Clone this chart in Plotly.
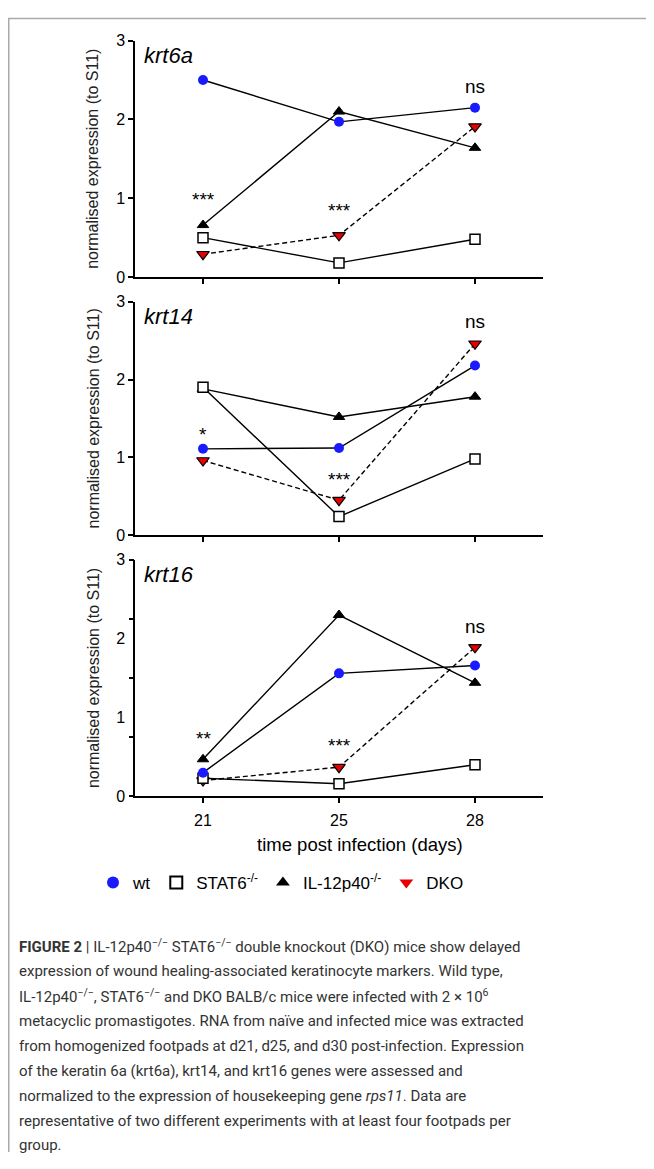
import plotly.graph_objects as go

# the page body has an 8px default margin: use a canvas that fits inside the window
OFF = 8
W, H = 654 - 2 * OFF, 1169 - 2 * OFF

days = ["21", "25", "28"]
genes = ["krt6a", "krt14", "krt16"]

wt = {"krt6a": [2.50, 1.97, 2.15], "krt14": [1.11, 1.12, 2.18], "krt16": [0.30, 1.56, 1.66]}
stat6 = {"krt6a": [0.50, 0.18, 0.48], "krt14": [1.90, 0.24, 0.98], "krt16": [0.23, 0.16, 0.40]}
il12 = {"krt6a": [0.66, 2.10, 1.64], "krt14": [1.88, 1.52, 1.78], "krt16": [0.47, 2.30, 1.44]}
dko = {"krt6a": [0.29, 0.53, 1.91], "krt14": [0.96, 0.45, 2.46], "krt16": [0.20, 0.37, 1.89]}

stats_text = {"krt6a": ["***", "***", "ns"], "krt14": ["*", "***", "ns"], "krt16": ["**", "***", "ns"]}
stats_y = {"krt6a": [0.98, 0.85, 2.42], "krt14": [1.30, 0.71, 2.74], "krt16": [0.73, 0.65, 2.16]}

yticks = [0, 1, 2, 3]
krt16_minor_ticks = [0, 0.75, 1.5, 2.25, 3]

caption_lines = [
    "<b>FIGURE 2</b> | IL-12p40<sup>−/−</sup> STAT6<sup>−/−</sup> double knockout (DKO) mice show delayed",
    "expression of wound healing-associated keratinocyte markers. Wild type,",
    "IL-12p40<sup>−/−</sup>, STAT6<sup>−/−</sup> and DKO BALB/c mice were infected with 2 × 10<sup>6</sup>",
    "metacyclic promastigotes. RNA from naïve and infected mice was extracted",
    "from homogenized footpads at d21, d25, and d30 post-infection. Expression",
    "of the keratin 6a (krt6a), krt14, and krt16 genes were assessed and",
    "normalized to the expression of housekeeping gene <i>rps11</i>. Data are",
    "representative of two different experiments with at least four footpads per",
    "group.",
]

def px_x(v):
    return (v - OFF) / W

def px_y(v):
    return 1 - (v - OFF) / H

# panel pixel geometry (top of axis at value 3, bottom at value 0)
panels = [(33, 273), (298, 535), (560, 800)]
x_left, x_right = 135, 543

FONT = "Liberation Sans, Arial, sans-serif"

fig = go.Figure()

series = [
    ("IL-12p40<sup>-/-</sup>", il12, dict(symbol="triangle-up", size=10, color="black",
                                          line=dict(color="black", width=1)), "solid"),
    ("DKO", dko, dict(symbol="triangle-down", size=11, color="#e60000",
                     line=dict(color="black", width=1.2)), "5px,3px"),
    ("STAT6<sup>-/-</sup>", stat6, dict(symbol="square", size=10, color="white",
                                        line=dict(color="black", width=1.5)), "solid"),
    ("wt", wt, dict(symbol="circle", size=10, color="#1a1aff",
                   line=dict(color="#1a1aff", width=0)), "solid"),
]

for i, g in enumerate(genes):
    xa = "x" if i == 0 else f"x{i+1}"
    ya = "y" if i == 0 else f"y{i+1}"
    for name, data, mk, dash in series:
        fig.add_trace(go.Scatter(
            x=days, y=data[g], mode="lines+markers", xaxis=xa, yaxis=ya,
            line=dict(color="black", width=1.4, dash=dash),
            marker=mk, showlegend=False, name=name, cliponaxis=False,
        ))

# legend-only entries
legend_markers = {
    "wt": dict(symbol="circle", size=12, color="#1a1aff"),
    "STAT6<sup>-/-</sup>": dict(symbol="square-open", size=12, color="black", line=dict(width=1.3)),
    "IL-12p40<sup>-/-</sup>": dict(symbol="triangle-up", size=12, color="black"),
    "DKO": dict(symbol="triangle-down", size=12, color="#e60000"),
}
for rank, (name, mk) in enumerate(legend_markers.items()):
    fig.add_trace(go.Scatter(x=[None], y=[None], mode="markers", name=name, marker=mk,
                             showlegend=True, legendrank=rank + 1, xaxis="x3", yaxis="y3"))

layout = dict(
    width=W, height=H, margin=dict(l=0, r=0, t=0, b=0),
    paper_bgcolor="white", plot_bgcolor="white",
    font=dict(family=FONT, color="black", size=15),
    showlegend=True,
    legend=dict(orientation="h", x=px_x(93), y=px_y(888), xanchor="left", yanchor="middle",
                font=dict(size=17, family=FONT, color="black"), bgcolor="rgba(0,0,0,0)",
                itemsizing="constant"),
)

for i, (top, bot) in enumerate(panels):
    sfx = "" if i == 0 else str(i + 1)
    layout["xaxis" + sfx] = dict(
        domain=[px_x(x_left), px_x(x_right)], anchor="y" + sfx, type="category",
        range=[-0.5, 2.5], showline=True, linecolor="black", linewidth=1.5,
        ticks="outside", ticklen=5, tickwidth=1.5, tickcolor="black",
        showgrid=False, zeroline=False, showticklabels=(i == 2),
        tickfont=dict(size=16), ticklabelstandoff=4,
    )
    layout["yaxis" + sfx] = dict(
        domain=[px_y(bot), px_y(top)], anchor="x" + sfx, range=[0, 3],
        tickvals=yticks, showline=True, linecolor="black", linewidth=1.5,
        ticks=("outside" if i < 2 else ""), ticklen=5, tickwidth=1.5, tickcolor="black",
        showgrid=False, zeroline=False, tickfont=dict(size=16),
        ticklabelstandoff=(0 if i < 2 else 5),
    )

layout["yaxis4"] = dict(
    overlaying="y3", anchor="x3", range=[0, 3], tickvals=krt16_minor_ticks,
    ticks="outside", ticklen=5, tickwidth=1.5, tickcolor="black",
    showticklabels=False, showline=False, showgrid=False, zeroline=False,
)

fig.update_layout(**layout)
# trace so the overlay tick axis is drawn
fig.add_trace(go.Scatter(x=[None], y=[None], xaxis="x3", yaxis="y4", showlegend=False))

ann = []
for i, g in enumerate(genes):
    top, bot = panels[i]
    xref = "x" if i == 0 else f"x{i+1}"
    yref = "y" if i == 0 else f"y{i+1}"
    ann.append(dict(text=f"<i>{g}</i>", x=px_x(142), y=px_y(top + 15), xref="paper", yref="paper",
                    xanchor="left", yanchor="middle", showarrow=False,
                    font=dict(size=22, family=FONT, color="black")))
    ann.append(dict(text="normalised expression (to S11)", x=px_x(93), y=px_y((top + bot) / 2),
                    xref="paper", yref="paper", textangle=-90, showarrow=False,
                    xanchor="center", yanchor="middle",
                    font=dict(size=16, family=FONT, color="#222")))
    for j, d in enumerate(days):
        ann.append(dict(text=stats_text[g][j], x=j, y=stats_y[g][j], xref=xref, yref=yref,
                        showarrow=False, xanchor="center", yanchor="middle",
                        font=dict(size=19, family=FONT, color="black")))

ann.append(dict(text="time post infection (days)", x=px_x(360), y=px_y(849), xref="paper",
                yref="paper", showarrow=False, xanchor="center", yanchor="middle",
                font=dict(size=18.5, family=FONT, color="black")))

CAP_FONT = "Roboto, Arial, sans-serif"
for k, line in enumerate(caption_lines):
    ann.append(dict(text=line, x=px_x(17), y=px_y(952 + k * 25.3), xref="paper", yref="paper",
                    showarrow=False, xanchor="left", yanchor="middle", align="left",
                    font=dict(size=15, family=CAP_FONT, color="#333")))

fig.update_layout(annotations=ann)

fig.update_layout(shapes=[
    dict(type="line", xref="paper", yref="paper", x0=0, x1=1, y0=px_y(10.5), y1=px_y(10.5),
         line=dict(color="#aaaaaa", width=1.5)),
    dict(type="line", xref="paper", yref="paper", x0=px_x(8.75), x1=px_x(8.75), y0=px_y(10.5), y1=0,
         line=dict(color="#aaaaaa", width=1.5)),
])

fig.write_html("out.html")
